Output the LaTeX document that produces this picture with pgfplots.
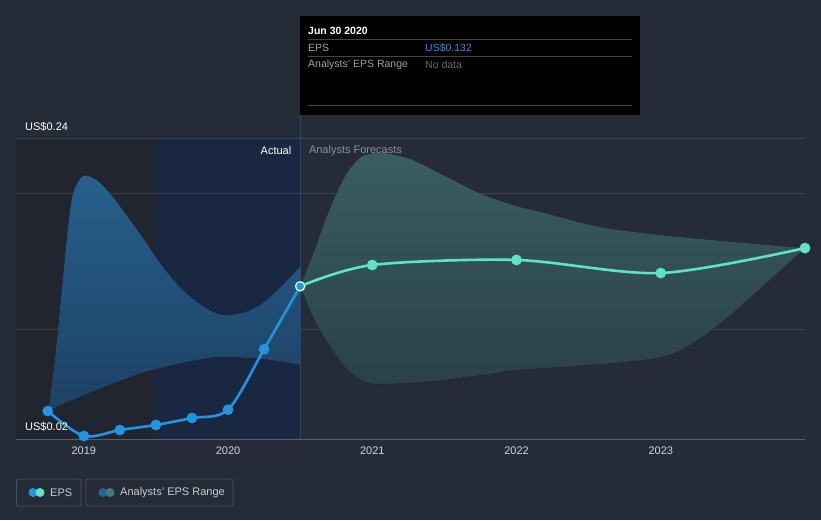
\documentclass[border=0pt]{standalone}
\usepackage{pgfplots}
\pgfplotsset{compat=1.18}
\usepgfplotslibrary{fillbetween}
\usepackage{fontspec}
\setmainfont{Liberation Sans}
\definecolor{bg}{HTML}{262B38}
\definecolor{regA}{HTML}{21252F}
\definecolor{regB}{HTML}{1A2740}
\definecolor{gridc}{HTML}{3A404C}
\definecolor{axisc}{HTML}{585E6A}
\definecolor{ticktext}{HTML}{D0D3D8}
\definecolor{epsblue}{HTML}{2394DF}
\definecolor{epsteal}{HTML}{5DE3C6}
\definecolor{bandtopB}{HTML}{2A6A9C}
\definecolor{bandbotB}{HTML}{22486E}
\definecolor{bandtopT}{HTML}{3F686A}
\definecolor{bandbotT}{HTML}{2F4850}
\definecolor{vline}{HTML}{1F4A80}
\definecolor{forec}{HTML}{8A8F98}
\definecolor{legborder}{HTML}{4A505C}
\definecolor{legtext}{HTML}{C8CCD2}
\definecolor{ttgrey}{HTML}{A0A0A0}
\definecolor{ttdark}{HTML}{6A6A6A}
\definecolor{ttline}{HTML}{444444}
\definecolor{legblueD}{HTML}{2A6590}
\definecolor{legtealD}{HTML}{3F7D7D}

\pgfplotstableread{
x y
2018.75 0.0405
2019.0 0.0222
2019.25 0.0266
2019.5 0.0303
2019.75 0.0354
2020.0 0.0415
2020.25 0.0858
2020.5 0.132
}\actual

\pgfplotstableread{
x y
2020.5 0.132
2021.0 0.1476
2022.0 0.1513
2023.0 0.1417
2024.0 0.160
}\forecast

\pgfplotstableread{
x y
2018.753 0.0408
2018.799 0.0779
2018.845 0.1268
2018.891 0.1757
2018.926 0.2002
2018.995 0.2129
2019.088 0.2099
2019.201 0.1977
2019.319 0.1806
2019.435 0.1637
2019.548 0.1461
2019.665 0.1315
2019.781 0.1207
2019.894 0.1133
2019.989 0.1109
2020.127 0.1133
2020.240 0.1197
2020.358 0.1307
2020.5 0.1464
}\bup

\pgfplotstableread{
x y
2018.753 0.0408
2019.088 0.0559
2019.435 0.0694
2019.781 0.0779
2019.963 0.0801
2020.240 0.0787
2020.5 0.0743
}\blo

\pgfplotstableread{
x y
2020.5 0.132
2020.600 0.1586
2020.693 0.1855
2020.809 0.2124
2020.924 0.2270
2021.050 0.2298
2021.150 0.2285
2021.280 0.2246
2021.513 0.2124
2021.744 0.2002
2021.973 0.1916
2022.160 0.1867
2022.576 0.1755
2023.0 0.1696
2023.5 0.1645
2024.0 0.160
}\tup

\pgfplotstableread{
x y
2020.5 0.132
2020.600 0.1073
2020.693 0.0902
2020.809 0.0730
2020.924 0.0633
2021.040 0.0603
2021.386 0.0620
2021.848 0.0682
2022.0 0.0706
2022.714 0.0760
2023.061 0.0817
2023.292 0.0950
2023.523 0.1146
2023.754 0.1366
2024.0 0.160
}\tlo

\begin{document}
\begin{tikzpicture}[x=1pt,y=1pt]
\fill[bg] (0,0) rectangle (821,520);
\begin{axis}[
  at={(16pt,81pt)}, anchor=south west,
  scale only axis, width=789pt, height=300pt,
  xmin=2018.53, xmax=2024, ymin=0.02, ymax=0.24,
  clip=false,
  axis line style={draw=none},
  ytick=\empty,
  xtick={2019,2020,2021,2022,2023},
  xticklabels={2019,2020,2021,2022,2023},
  xtick pos=bottom,
  tick align=outside,
  major tick length=4pt,
  x tick style={draw=axisc, line width=0.8pt},
  x tick label style={font=\fontsize{11}{13}\selectfont, text=ticktext},
  /pgf/number format/assume math mode=true,
]
\fill[regA] (axis cs:2018.53,0.02) rectangle (axis cs:2019.5,0.24);
\fill[regB] (axis cs:2019.5,0.02) rectangle (axis cs:2020.5,0.24);
\draw[gridc, line width=1pt] (axis cs:2018.53,0.1) -- (axis cs:2024,0.1);
\draw[gridc, line width=1pt] (axis cs:2018.53,0.2) -- (axis cs:2024,0.2);
\draw[gridc, line width=1pt] (axis cs:2018.53,0.24) -- (axis cs:2024,0.24);
\draw[axisc, line width=1pt] (axis cs:2018.53,0.02) -- (axis cs:2024,0.02);

\addplot[draw=none, smooth, tension=0.5, name path=bu] table {\bup};
\addplot[draw=none, smooth, tension=0.5, name path=bl] table {\blo};
\addplot[shading=axis, top color=bandtopB, bottom color=bandbotB, fill opacity=0.9, draw=none] fill between[of=bu and bl, on layer=main];

\addplot[draw=none, smooth, tension=0.5, name path=tu] table {\tup};
\addplot[draw=none, smooth, tension=0.5, name path=tl] table {\tlo};
\addplot[shading=axis, top color=bandtopT, bottom color=bandbotT, fill opacity=0.9, draw=none] fill between[of=tu and tl, on layer=main];

\draw[vline, line width=1pt] (axis cs:2020.5,0.02) -- (axis cs:2020.5,0.2576);

\addplot[epsteal, line width=2.6pt, smooth, mark=*, mark size=4pt, mark options={fill=epsteal, draw=epsteal}] table {\forecast};
\addplot[epsblue, line width=2.6pt, smooth, mark=*, mark size=4pt, mark options={fill=epsblue, draw=epsblue}] table {\actual};
\addplot[only marks, mark=*, mark size=4.5pt, mark options={fill=epsblue, draw=white, line width=1pt}] coordinates {(2020.5,0.132)};

\node[anchor=east, text=white, font=\fontsize{11}{13}\selectfont, inner sep=0pt] at (axis cs:2020.44,0.2312) {Actual};
\node[anchor=west, text=forec, font=\fontsize{11}{13}\selectfont, inner sep=0pt] at (axis cs:2020.56,0.2312) {Analysts Forecasts};
\end{axis}

\node[anchor=west, text=white, font=\fontsize{11}{13}\selectfont, inner sep=0pt] at (25,393) {US\$0.24};
\node[anchor=west, text=white, font=\fontsize{11}{13}\selectfont, inner sep=0pt] at (25,93) {US\$0.02};

% tooltip
\fill[black] (300,504) rectangle (640,405);
\node[anchor=west, text=white, font=\bfseries\fontsize{10.5}{12}\selectfont, inner sep=0pt] at (308,489) {Jun 30 2020};
\draw[ttline, line width=1pt] (308,480) -- (632,480);
\node[anchor=west, text=ttgrey, font=\fontsize{10.5}{12}\selectfont, inner sep=0pt] at (308,472) {EPS};
\node[anchor=west, text=epsblue, font=\fontsize{10.5}{12}\selectfont, inner sep=0pt] at (425,472) {US\$0.132};
\draw[ttline, line width=1pt] (308,463) -- (632,463);
\node[anchor=west, text=ttgrey, font=\fontsize{10.5}{12}\selectfont, inner sep=0pt] at (308,455) {Analysts' EPS Range};
\node[anchor=west, text=ttdark, font=\fontsize{10.5}{12}\selectfont, inner sep=0pt] at (425,455) {No data};
\draw[ttline, line width=1pt] (308,414) -- (632,414);

% legend
\draw[legborder, rounded corners=2pt, line width=0.8pt] (16.5,14) rectangle (81,41);
\fill[epsblue] (33,27.5) circle (4.5);
\fill[epsteal] (40,27.5) circle (4.5);
\node[anchor=west, text=legtext, font=\fontsize{11}{13}\selectfont, inner sep=0pt] at (50,27.5) {EPS};
\draw[legborder, rounded corners=2pt, line width=0.8pt] (86,14) rectangle (233,41);
\fill[legblueD] (103,27.5) circle (4.5);
\fill[legtealD] (110,27.5) circle (4.5);
\node[anchor=west, text=legtext, font=\fontsize{11}{13}\selectfont, inner sep=0pt] at (120,27.5) {Analysts' EPS Range};
\end{tikzpicture}
\end{document}
